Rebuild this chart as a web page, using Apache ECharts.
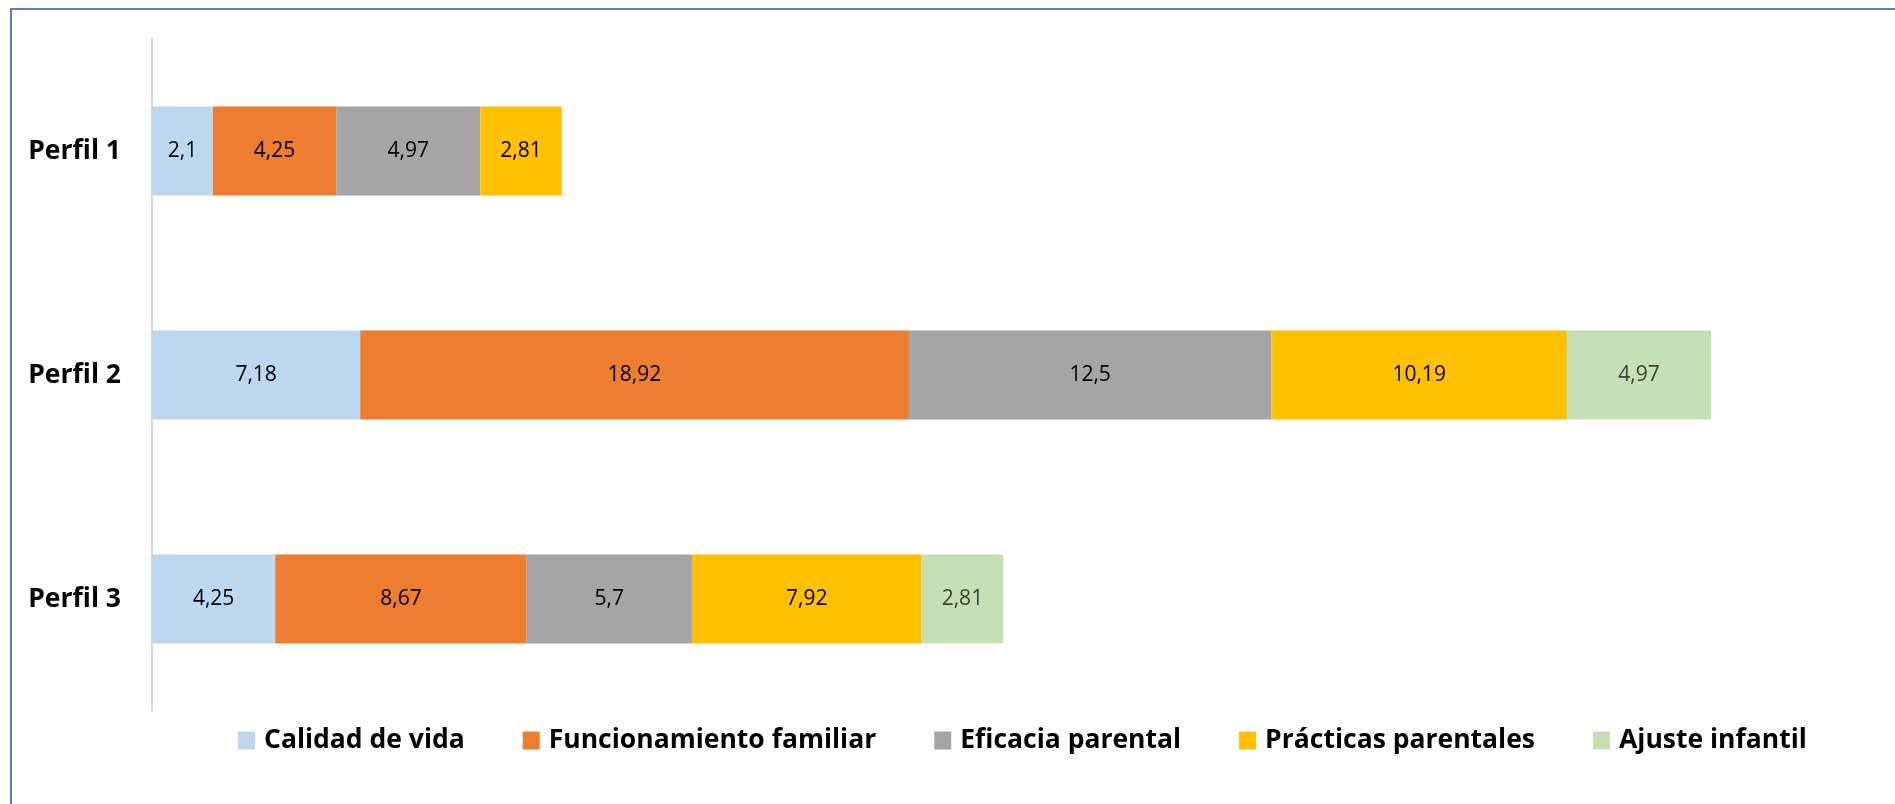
<!DOCTYPE html>
<html>
<head>
<meta charset="utf-8">
<script src="https://cdn.jsdelivr.net/npm/echarts@6/dist/echarts.min.js"></script>
<style>
  html, body { margin: 0; padding: 0; background: #fff; }
  #chart { width: 1895px; height: 804px; }
</style>
</head>
<body>
<div id="chart"></div>
<script>
const perfiles = ['Perfil 1', 'Perfil 2', 'Perfil 3'];
const seriesNames = ['Calidad de vida', 'Funcionamiento familiar', 'Eficacia parental', 'Prácticas parentales', 'Ajuste infantil'];
const calidadVida = [2.1, 7.18, 4.25];
const funcionamientoFamiliar = [4.25, 18.92, 8.67];
const eficaciaParental = [4.97, 12.5, 5.7];
const practicasParentales = [2.81, 10.19, 7.92];
const ajusteInfantil = [null, 4.97, 2.81];

const colors = ['#BDD7EE', '#ED7D31', '#A5A5A5', '#FFC000', '#C5E0B4'];
const labelColors = ['#000', '#000', '#000', '#000', '#404040'];
const values = [calidadVida, funcionamientoFamiliar, eficaciaParental, practicasParentales, ajusteInfantil];

const chart = echarts.init(document.getElementById('chart'));

// una serie apilada por dimensión
const series = seriesNames.map((name, i) => ({
  name: name,
  type: 'bar',
  stack: 'total',
  barWidth: 89,
  data: values[i],
  itemStyle: { color: colors[i] },
  label: {
    show: true,
    position: 'inside',
    color: labelColors[i],
    fontFamily: 'Open Sans',
    fontSize: 21,
    formatter: p => p.value == null ? '' : String(p.value).replace('.', ',')
  }
}));

const option = {
  animation: false,
  backgroundColor: '#fff',
  grid: {
    left: 152,
    right: 3,
    top: 39,
    bottom: 93,
    containLabel: false
  },
  xAxis: {
    type: 'value',
    min: 0,
    max: 60,
    interval: 10,
    show: false
  },
  yAxis: {
    type: 'category',
    data: perfiles,
    inverse: true,
    axisLine: { show: true, lineStyle: { color: '#D9D9D9', width: 2 } },
    axisTick: { show: false },
    axisLabel: {
      margin: 31,
      color: '#000',
      fontFamily: 'Open Sans',
      fontWeight: 'bold',
      fontSize: 26.5
    }
  },
  legend: {
    data: seriesNames,
    left: 233,
    top: 722,
    itemWidth: 17,
    itemHeight: 18,
    itemGap: 58,
    icon: 'rect',
    textStyle: {
      color: '#000',
      fontFamily: 'Open Sans',
      fontWeight: 'bold',
      fontSize: 26.5,
      padding: [0, 0, 0, 4]
    }
  },
  graphic: [{
    type: 'rect',
    silent: true,
    shape: { x: 11, y: 9, width: 2000, height: 2000 },
    style: { fill: 'none', stroke: '#5A7FB0', lineWidth: 2 }
  }],
  series: series
};

chart.setOption(option);
</script>
</body>
</html>
